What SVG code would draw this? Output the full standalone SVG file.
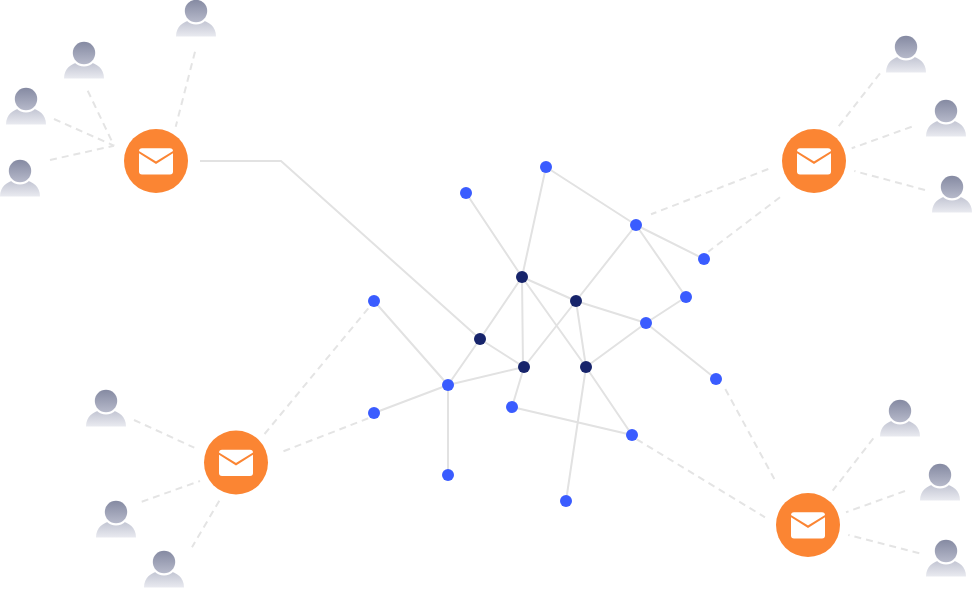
<svg xmlns="http://www.w3.org/2000/svg" width="972" height="610" viewBox="0 0 972 610">
<style>
.e{fill:none;stroke:#e2e2e2;stroke-width:2}
.d{fill:none;stroke:#e4e4e4;stroke-width:2;stroke-dasharray:7 5}
.b{fill:#3a5cff}.n{fill:#17246b}.o{fill:#fb8533}
</style>
<defs>
<linearGradient id="h" x1="0" y1="0" x2="0" y2="1"><stop offset="0" stop-color="#858aa2"/><stop offset="1" stop-color="#b6b9ca"/></linearGradient>
<linearGradient id="s" x1="0" y1="0" x2="0" y2="1"><stop offset="0" stop-color="#c0c3d1"/><stop offset="1" stop-color="#e9eaf0"/></linearGradient>
<g id="person">
<path d="M-20 25.500C-20 16-13 10-4 9L4 9C13 10 20 16 20 25.500Z" fill="url(#s)"/>
<circle r="13.500" fill="#fff"/>
<circle r="11.200" fill="url(#h)"/>
</g>
<g id="mail">
<circle r="32" class="o"/>
<rect x="-17" y="-12.800" width="34" height="26.200" rx="3" fill="#fff"/>
<path d="M-18 -9.500L0 1.700L18 -9.500" fill="none" stroke="#fb8533" stroke-width="2"/>
</g>
</defs>
<g id="connectors">
<path class="e" d="M200 161H281L480 339"/>
<path class="e" d="M466 193L522 277M546 167L522 277M546 167L636 225M636 225L704 259M636 225L576 301M636 225L686 297M686 297L646 323M576 301L646 323M646 323L586 367M646 323L716 379M522 277L576 301M522 277L480 339M522 277L523 367M522 277L586 367M576 301L524 367M576 301L586 367M480 339L524 367M480 339L448 385M524 367L448 385M524 367L512 407M586 367L632 435M586 367L566 501M512 407L632 435M374 301L448 385M374 413L448 385M448 385L448 475"/>
<path class="d" d="M195 51.700L175.700 126.700M87.700 90.700L114 145.700M54 119L114 145.700M50 160L114 145.700"/>
<path class="d" d="M880 73.300L838.300 126.700M911.700 126.700L851.700 148.300M925 190L854.300 171M768.300 169L651 214.300M780 197.300L708.300 251.700"/>
<path class="d" d="M134 420L194.300 447.700M141.700 501.700L200 481M219.300 500.700L192 547.300M368.300 308.300L264.300 434.300M368.300 418.300L283.300 451.300"/>
<path class="d" d="M873.300 438.300L832.700 490.700M905 491L846 512.300M919.300 553.300L848.300 535M725.300 389L774.300 479M636.700 439.300L765 517.300"/>
</g>
<g id="dots-blue">
<circle class="b" cx="466" cy="193" r="6"/><circle class="b" cx="546" cy="167" r="6"/><circle class="b" cx="636" cy="225" r="6"/><circle class="b" cx="704" cy="259" r="6"/><circle class="b" cx="686" cy="297" r="6"/><circle class="b" cx="646" cy="323" r="6"/><circle class="b" cx="716" cy="379" r="6"/><circle class="b" cx="374" cy="301" r="6"/><circle class="b" cx="374" cy="413" r="6"/><circle class="b" cx="448" cy="385" r="6"/><circle class="b" cx="448" cy="475" r="6"/><circle class="b" cx="512" cy="407" r="6"/><circle class="b" cx="632" cy="435" r="6"/><circle class="b" cx="566" cy="501" r="6"/>
</g>
<g id="dots-navy">
<circle class="n" cx="522" cy="277" r="6"/><circle class="n" cx="576" cy="301" r="6"/><circle class="n" cx="480" cy="339" r="6"/><circle class="n" cx="524" cy="367" r="6"/><circle class="n" cx="586" cy="367" r="6"/>
</g>
<g id="mail-tl"><use href="#mail" x="156" y="161"/></g>
<g id="mail-tr"><use href="#mail" x="814" y="161"/></g>
<g id="mail-bl"><use href="#mail" x="236" y="462.500"/></g>
<g id="mail-br"><use href="#mail" x="808" y="525"/></g>
<g id="people">
<use href="#person" x="196" y="11"/><use href="#person" x="84" y="53"/><use href="#person" x="26" y="99"/><use href="#person" x="20" y="171"/>
<use href="#person" x="906" y="47"/><use href="#person" x="946" y="111"/><use href="#person" x="952" y="187"/>
<use href="#person" x="106" y="401"/><use href="#person" x="116" y="512"/><use href="#person" x="164" y="562"/>
<use href="#person" x="900" y="411"/><use href="#person" x="940" y="475"/><use href="#person" x="946" y="551"/>
</g>
</svg>
